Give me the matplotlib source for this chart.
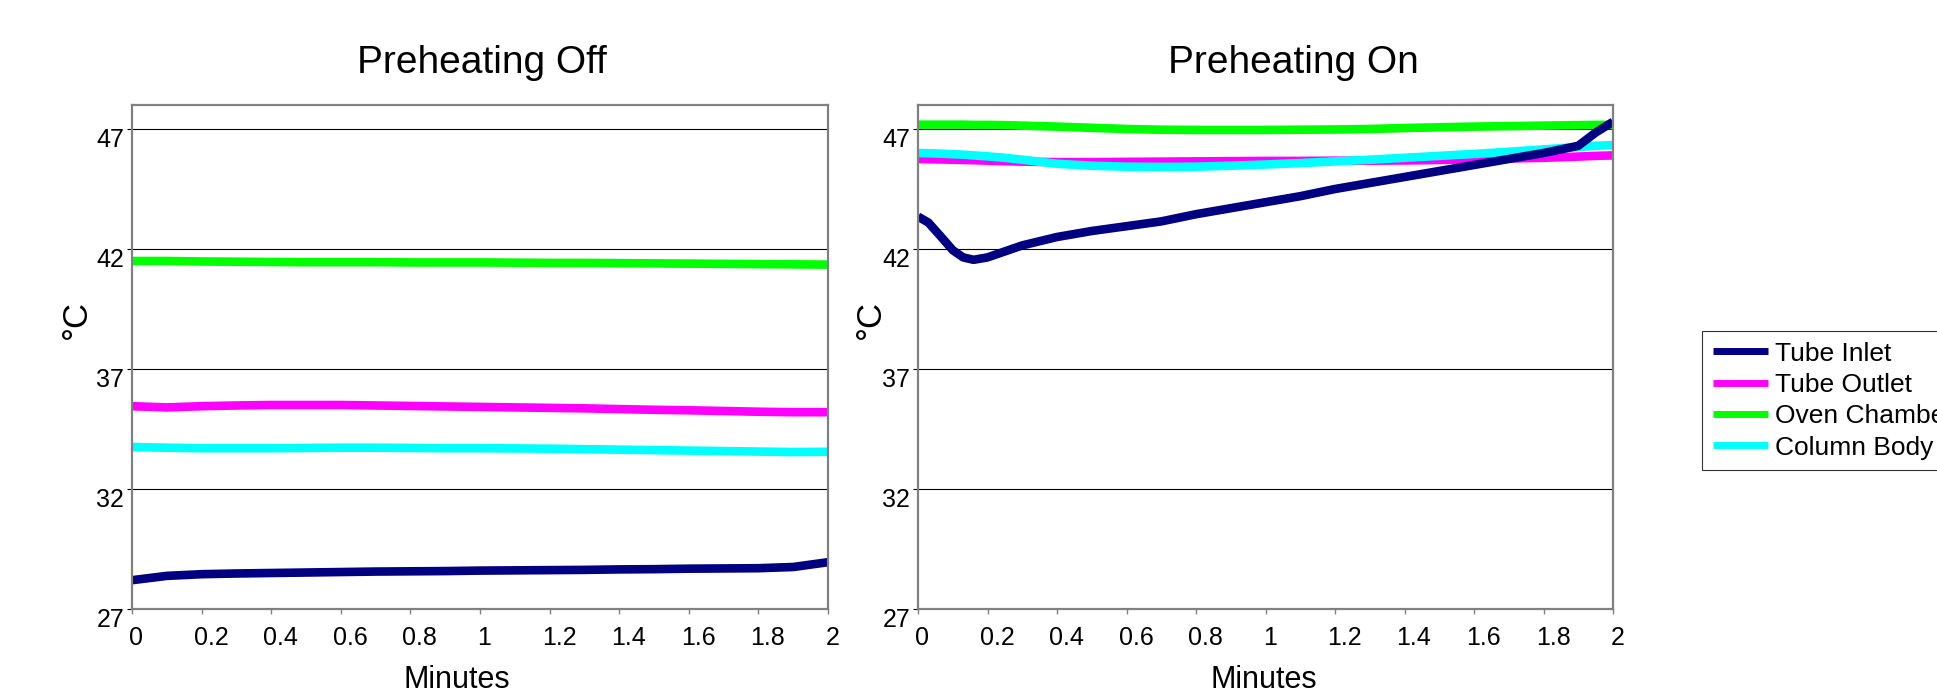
import matplotlib
matplotlib.use("Agg")
import matplotlib.pyplot as plt
from matplotlib.transforms import ScaledTranslation

plt.rcParams["font.family"] = ["Liberation Sans", "DejaVu Sans"]

# --- data -----------------------------------------------------------------
series_names = ["Tube Inlet", "Tube Outlet", "Oven Chamber", "Column Body"]
series_colors = ["#000080", "#ff00ff", "#00ff00", "#00ffff"]

off_minutes = [0.0, 0.1, 0.2, 0.3, 0.4, 0.5, 0.6, 0.7, 0.8, 0.9, 1.0,
               1.1, 1.2, 1.3, 1.4, 1.5, 1.6, 1.7, 1.8, 1.9, 2.0]
off_inlet = [28.2, 28.38, 28.45, 28.48, 28.5, 28.52, 28.54, 28.56, 28.57, 28.58, 28.6,
             28.61, 28.62, 28.63, 28.65, 28.66, 28.68, 28.69, 28.7, 28.75, 28.95]
off_outlet = [35.45, 35.4, 35.45, 35.48, 35.5, 35.5, 35.5, 35.48, 35.46, 35.44, 35.42,
              35.4, 35.38, 35.36, 35.33, 35.3, 35.28, 35.25, 35.22, 35.2, 35.2]
off_oven = [41.5, 41.5, 41.48, 41.47, 41.46, 41.45, 41.45, 41.45, 41.44, 41.44, 41.44,
            41.43, 41.42, 41.42, 41.41, 41.4, 41.39, 41.38, 41.37, 41.36, 41.35]
off_column = [33.75, 33.72, 33.7, 33.7, 33.7, 33.71, 33.72, 33.72, 33.71, 33.7, 33.7,
              33.69, 33.68, 33.66, 33.64, 33.62, 33.6, 33.58, 33.56, 33.54, 33.55]

on_minutes = [0.0, 0.03, 0.07, 0.1, 0.13, 0.16, 0.2, 0.25, 0.3, 0.4, 0.5, 0.6, 0.7, 0.8,
              0.9, 1.0, 1.1, 1.2, 1.3, 1.4, 1.5, 1.6, 1.7, 1.8, 1.9, 1.95, 2.0]
on_inlet = [43.35, 43.1, 42.45, 41.95, 41.65, 41.55, 41.65, 41.9, 42.15, 42.5, 42.75,
            42.95, 43.15, 43.45, 43.7, 43.95, 44.2, 44.5, 44.75, 45.0, 45.25, 45.5,
            45.75, 46.0, 46.3, 46.85, 47.3]
on_outlet = [45.75, 45.74, 45.73, 45.72, 45.71, 45.7, 45.68, 45.66, 45.64, 45.62, 45.62,
             45.63, 45.64, 45.65, 45.66, 45.67, 45.67, 45.68, 45.68, 45.69, 45.71, 45.74,
             45.77, 45.8, 45.85, 45.88, 45.9]
on_oven = [47.18, 47.18, 47.18, 47.18, 47.18, 47.17, 47.17, 47.16, 47.14, 47.1, 47.05,
           47.0, 46.97, 46.96, 46.96, 46.96, 46.97, 46.98, 47.0, 47.04, 47.07, 47.1,
           47.12, 47.14, 47.16, 47.17, 47.17]
on_column = [46.0, 45.99, 45.97, 45.95, 45.93, 45.9, 45.86, 45.8, 45.72, 45.55, 45.47,
             45.43, 45.42, 45.43, 45.47, 45.52, 45.58, 45.65, 45.72, 45.8, 45.88, 45.96,
             46.05, 46.15, 46.25, 46.3, 46.33]

x_ticks = [0, 0.2, 0.4, 0.6, 0.8, 1.0, 1.2, 1.4, 1.6, 1.8, 2.0]
x_tick_labels = ["0", "0.2", "0.4", "0.6", "0.8", "1", "1.2", "1.4", "1.6", "1.8", "2"]
y_ticks = [27, 32, 37, 42, 47]
y_tick_labels = ["27", "32", "37", "42", "47"]

panels = [
    ("Preheating Off", off_minutes, [off_inlet, off_outlet, off_oven, off_column]),
    ("Preheating On", on_minutes, [on_inlet, on_outlet, on_oven, on_column]),
]

# --- layout (from pixel measurements of the reference) ---------------------
W, H = 1937, 693
fig = plt.figure(figsize=(W / 100, H / 100), dpi=100)
axes_px = [(132, 828), (918, 1613)]
top_px, bot_px = 105, 609
title_x = [0.503, 0.540]
ylabel_x = [-0.080, -0.068]
xlabel_x = [0.466, 0.498]
zorders = [6, 3, 4, 5]

spine_grey = "#808080"
handles = []
for i, (title, minutes, values) in enumerate(panels):
    x0, x1 = axes_px[i]
    ax = fig.add_axes([x0 / W, (H - bot_px) / H, (x1 - x0) / W, (bot_px - top_px) / H])
    for name, color, ys, z in zip(series_names, series_colors, values, zorders):
        ln, = ax.plot(minutes, ys, color=color, lw=6.2, label=name, zorder=z,
                      solid_capstyle="butt")
        if i == 0:
            handles.append(ln)

    ax.set_xlim(0, 2)
    ax.set_ylim(27, 48)
    ax.set_xticks(x_ticks)
    ax.set_yticks(y_ticks)
    ax.tick_params(axis="x", length=3.6, width=1, color=spine_grey, labelbottom=False)
    ax.tick_params(axis="y", length=3.6, width=0.8, color="black", labelleft=False)
    ax.grid(axis="y", color="black", lw=0.8, zorder=1)
    ax.grid(axis="x", visible=False)
    ax.set_axisbelow(True)
    for sp in ax.spines.values():
        sp.set_color(spine_grey)
        sp.set_linewidth(1.6)
        sp.set_zorder(7)

    # tick labels drawn by hand so they can carry the small offsets of the original
    for t, lab in zip(x_ticks, x_tick_labels):
        dx = (2 + 2.5 * len(lab)) / 100
        tr = ax.get_xaxis_transform() + ScaledTranslation(dx, -0.29, fig.dpi_scale_trans)
        ax.text(t, 0, lab, transform=tr, ha="center", va="center", fontsize=18)
    for t, lab in zip(y_ticks, y_tick_labels):
        tr = ax.get_yaxis_transform() + ScaledTranslation(-0.08, -0.11, fig.dpi_scale_trans)
        ax.text(0, t, lab, transform=tr, ha="right", va="center", fontsize=18)

    ax.text(title_x[i], 1.064, title, transform=ax.transAxes, ha="center",
            va="baseline", fontsize=28)
    ax.text(xlabel_x[i], -0.14, "Minutes", transform=ax.transAxes, ha="center",
            va="center", fontsize=22)
    ax.text(ylabel_x[i], 0.575, "°C", transform=ax.transAxes, ha="center",
            va="center", rotation=90, fontsize=25)

leg = fig.legend(handles=handles, loc="upper left",
                 bbox_to_anchor=(1702 / W, 1 - 331 / H), bbox_transform=fig.transFigure,
                 fontsize=19, frameon=True, fancybox=False, borderpad=0.4,
                 handlelength=2.1, handletextpad=0.25, labelspacing=0.28,
                 borderaxespad=0)
leg.get_frame().set_edgecolor("black")
leg.get_frame().set_linewidth(0.8)
for h in leg.get_lines():
    h.set_linewidth(5)

fig.savefig("out.png", dpi=100)
